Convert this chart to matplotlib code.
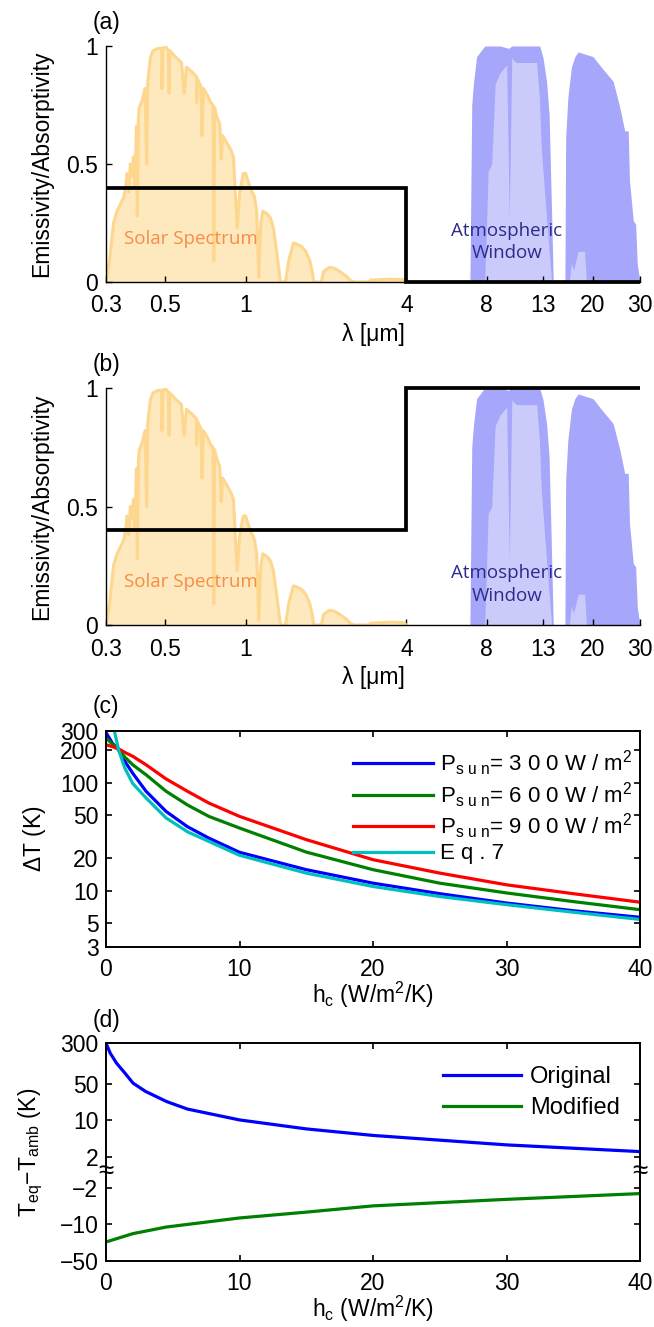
import numpy as np
import matplotlib
matplotlib.use("Agg")
import matplotlib.pyplot as plt
from matplotlib.ticker import NullLocator

plt.rcParams['font.family'] = ['Liberation Sans', 'DejaVu Sans']
plt.rcParams['mathtext.fontset'] = 'custom'
plt.rcParams['mathtext.rm'] = 'Liberation Sans'
plt.rcParams['mathtext.it'] = 'Liberation Sans:italic'
plt.rcParams['mathtext.bf'] = 'Liberation Sans:bold'

# === DATA ===
# AM1.5 solar spectrum, normalised, vs wavelength (um)
solar_wl = [0.300, 0.310, 0.320, 0.330, 0.340, 0.350, 0.355, 0.360, 0.365, 0.370,
            0.375, 0.380, 0.385, 0.390, 0.393, 0.397, 0.400, 0.410, 0.420, 0.426,
            0.430, 0.440, 0.450, 0.470, 0.485, 0.486, 0.490, 0.500, 0.514, 0.517,
            0.520, 0.550, 0.575, 0.589, 0.600, 0.630, 0.655, 0.656, 0.660, 0.680,
            0.687, 0.695, 0.720, 0.740, 0.755, 0.760, 0.765, 0.780, 0.800, 0.810,
            0.820, 0.850, 0.880, 0.900, 0.930, 0.950, 0.980, 1.000, 1.040, 1.080,
            1.100, 1.120, 1.140, 1.160, 1.200, 1.240, 1.270, 1.310, 1.350, 1.410,
            1.450, 1.510, 1.560, 1.620, 1.680, 1.740, 1.780, 1.800, 1.920, 1.960,
            2.060, 2.150, 2.250, 2.380, 2.480, 2.550, 2.880, 2.950, 3.500, 3.900,
            4.000]
solar = [0.00, 0.10, 0.25, 0.30, 0.33, 0.36, 0.40, 0.46, 0.38, 0.50,
         0.45, 0.53, 0.40, 0.66, 0.28, 0.70, 0.74, 0.77, 0.82, 0.50,
         0.85, 0.95, 0.98, 0.99, 0.99, 0.82, 0.99, 1.00, 0.98, 0.80,
         0.98, 0.95, 0.93, 0.80, 0.91, 0.89, 0.87, 0.76, 0.86, 0.83,
         0.62, 0.82, 0.79, 0.76, 0.75, 0.09, 0.74, 0.70, 0.67, 0.52,
         0.62, 0.59, 0.56, 0.53, 0.23, 0.38, 0.46, 0.46, 0.40, 0.36,
         0.30, 0.02, 0.25, 0.30, 0.29, 0.27, 0.23, 0.12, 0.00, 0.00,
         0.09, 0.165, 0.16, 0.15, 0.13, 0.09, 0.04, 0.00, 0.00, 0.045,
         0.062, 0.058, 0.045, 0.025, 0.005, 0.00, 0.00, 0.008, 0.012, 0.010,
         0.00]

# atmospheric transmittance: outer (dark) envelope
atm_wl = [6.80, 6.92, 7.03, 7.13, 7.33, 7.86, 9.00, 9.65, 9.93, 11.5,
          12.63, 13.0, 13.4, 13.7, 13.9, 14.2, 15.7, 15.8, 16.1, 16.6,
          17.1, 17.6, 20.0, 21.5, 23.8, 25.2, 26.3, 27.1, 27.4, 28.3,
          28.9, 29.3, 30.0]
atm_dark = [0.00, 0.00, 0.75, 0.84, 0.955, 1.00, 1.00, 0.99, 1.00, 1.00,
            1.00, 0.95, 0.85, 0.71, 0.43, 0.00, 0.00, 0.61, 0.78, 0.91,
            0.955, 0.975, 0.955, 0.91, 0.85, 0.74, 0.64, 0.64, 0.43, 0.26,
            0.245, 0.075, 0.00]
# atmospheric transmittance: inner (light) envelope
atm_light_wl = [7.86, 8.00, 8.10, 8.35, 8.60, 8.96, 9.50, 9.72, 9.93, 10.3,
                12.3, 12.6, 12.8, 13.4, 14.0, 16.3, 16.6, 16.9, 17.6, 18.6,
                18.9]
atm_light = [0.00, 0.27, 0.47, 0.50, 0.84, 0.885, 0.92, 0.27, 0.95, 0.93,
             0.93, 0.78, 0.57, 0.27, 0.00, 0.00, 0.08, 0.05, 0.13, 0.13,
             0.00]

# selective emitter emissivity
step_wl = [0.3, 4, 4, 30]
emiss_a = [0.4, 0.4, 0, 0]
emiss_b = [0.4, 0.4, 1, 1]

wl_ticks = [0.3, 0.5, 1, 4, 8, 13, 20, 30]
wl_labels = ['0.3', '0.5', '1', '4', '8', '13', '20', '30']

# (c) temperature difference vs convection coefficient
hc = [0, 0.47, 0.94, 1.41, 2, 3, 4.5, 6.1, 7.7, 10, 15, 20, 25, 30, 35, 40]
dT_300 = [290, 232, 201, 157, 122, 83, 54, 39, 30.6, 22.6, 15.6, 11.7, 9.35, 7.66, 6.5, 5.65]
dT_600 = [258, 228, 201, 172, 146, 118, 83, 62, 48.6, 37.9, 22.7, 15.6, 11.7, 9.5, 7.9, 6.65]
dT_900 = [224, 215, 205, 190, 175, 146, 108, 83, 64.6, 48.6, 29.6, 19.3, 14.5, 11.3, 9.35, 7.8]
hc_eq7 = [0.5, 0.63, 0.94, 1.41, 2, 3, 4.5, 6.1, 7.7, 10, 15, 20, 25, 30, 35, 40]
dT_eq7 = [360, 300, 201, 136, 98, 72, 47, 35, 28.5, 21.2, 14.5, 10.9, 8.8, 7.4, 6.3, 5.4]
c_ticks = [3, 5, 10, 20, 50, 100, 200, 300]

# (d) equilibrium temperature minus ambient
hd = [0, 0.31, 0.78, 1.41, 2.03, 2.97, 4.54, 6.1, 10, 15, 20, 30, 40]
T_orig = [300, 193, 124, 80, 51, 35.4, 22.7, 16.3, 10.1, 6.8, 5.1, 3.36, 2.5]
hd_mod = [0, 2, 4.5, 10, 15, 20, 30, 40]
T_mod = [-21.6, -15, -11.2, -7.5, -5.8, -4.4, -3.3, -2.56]
d_ticks = [-50, -10, -2, 2, 10, 50, 300]
d_labels = ['\u221250', '\u221210', '\u22122', '2', '10', '50', '300']

SOLAR_FILL = '#fee8be'
SOLAR_LINE = '#fdd78e'
ATM_DARK = '#a6a6fa'
ATM_LIGHT = '#cbcbfb'

W, H = 654, 1327
fig = plt.figure(figsize=(W / 100, H / 100), dpi=100)


def px_axes(left, top, right, bottom):
    return fig.add_axes([left / W, 1 - bottom / H, (right - left) / W, (bottom - top) / H])


TICK_FS = 16.5
LABEL_FS = 16.5


def spectrum_panel(ax, emiss, tag, tag_y):
    ax.fill_between(atm_wl, 0, atm_dark, color=ATM_DARK, lw=0)
    ax.fill_between(atm_light_wl, 0, atm_light, color=ATM_LIGHT, lw=0)
    ax.fill_between(solar_wl, 0, solar, color=SOLAR_FILL, lw=0)
    ax.plot(solar_wl, solar, color=SOLAR_LINE, lw=2.2)
    ax.plot(step_wl, emiss, color='k', lw=2.7, clip_on=False,
            solid_capstyle='butt', solid_joinstyle='miter', zorder=5)
    ax.set_xscale('log')
    ax.set_xlim(0.3, 30)
    ax.set_ylim(0, 1)
    ax.set_xticks(wl_ticks, wl_labels)
    ax.xaxis.set_minor_locator(NullLocator())
    ax.set_yticks([0, 0.5, 1], ['0', '0.5', '1'])
    for s in ['top', 'right']:
        ax.spines[s].set_visible(False)
    for s in ['left', 'bottom']:
        ax.spines[s].set_linewidth(1.0)
    ax.tick_params(direction='in', length=4.5, width=1.0, labelsize=TICK_FS)
    ax.tick_params(axis='x', pad=9)
    ax.tick_params(axis='y', pad=5.5)
    ax.text(0.35, 0.16, 'Solar Spectrum', color='#f88c45', fontsize=13.5,
            family='Open Sans')
    ax.text(9.5, 0.10, 'Atmospheric\nWindow', color='#2b2b8c', fontsize=13.5,
            family='Open Sans', ha='center', va='baseline', linespacing=1.35)
    ax.set_ylabel('Emissivity/Absorptivity', fontsize=LABEL_FS, va='center')
    ax.yaxis.set_label_coords(-0.12, 0.5)
    ax.set_xlabel('\u03bb [\u03bcm]', fontsize=LABEL_FS, va='baseline')
    ax.xaxis.set_label_coords(0.5, -0.25)
    fig.text(93 / W, 1 - tag_y / H, tag, fontsize=LABEL_FS, va='center', ha='left')


ax_a = px_axes(106, 46, 640, 282)
spectrum_panel(ax_a, emiss_a, '(a)', 22)
ax_b = px_axes(106, 388, 640, 625)
spectrum_panel(ax_b, emiss_b, '(b)', 365)


def box_style(ax):
    for s in ax.spines.values():
        s.set_linewidth(1.4)
    ax.tick_params(direction='in', length=4.5, width=1.2, labelsize=TICK_FS,
                   top=True, right=True)
    ax.tick_params(axis='x', pad=8)
    ax.tick_params(axis='y', pad=5.5)
    ax.set_xlim(0, 40)
    ax.set_xticks([0, 10, 20, 30, 40])


# (c)
ax_c = px_axes(106, 731, 640, 947)
lw = 2.3
ax_c.plot(hc, dT_300, color='#0000ff', lw=lw, label=r'P$_{\mathrm{s\ u\ n}}$= 3 0 0 W / m$^{2}$')
ax_c.plot(hc, dT_600, color='#008000', lw=lw, label=r'P$_{\mathrm{s\ u\ n}}$= 6 0 0 W / m$^{2}$')
ax_c.plot(hc, dT_900, color='#ff0000', lw=lw, label=r'P$_{\mathrm{s\ u\ n}}$= 9 0 0 W / m$^{2}$')
ax_c.plot(hc_eq7, dT_eq7, color='#00bfbf', lw=lw, label='E q . 7')
ax_c.set_yscale('log')
ax_c.set_ylim(3, 300)
ax_c.set_yticks(c_ticks, [str(t) for t in c_ticks])
ax_c.yaxis.set_minor_locator(NullLocator())
box_style(ax_c)
ax_c.legend(loc='upper left', bbox_to_anchor=(0.4625, 0.92), frameon=False,
            fontsize=16, handlelength=3.6, handletextpad=0.3, borderpad=0,
            borderaxespad=0, labelspacing=0.1)
ax_c.set_ylabel(r'$\Delta$T (K)', fontsize=LABEL_FS, va='center')
ax_c.yaxis.set_label_coords(-0.133, 0.5)
ax_c.set_xlabel(r'h$_{\mathrm{c}}$ (W/m$^{2}$/K)', fontsize=LABEL_FS, va='baseline')
ax_c.xaxis.set_label_coords(0.5, -0.259)
fig.text(93 / W, 1 - 707 / H, '(c)', fontsize=LABEL_FS, va='center', ha='left')

# (d) broken log axis: +2 .. 300 above the break, -2 .. -50 below
GAP = 0.3


def fwd(v):
    v = np.asarray(v, dtype=float)
    a = np.maximum(np.abs(v), 1e-12)
    return np.where(v == 0, 0.0, np.sign(v) * (np.log10(a / 2) + GAP))


def inv(y):
    y = np.asarray(y, dtype=float)
    return np.sign(y) * 2 * 10 ** (np.abs(y) - GAP)


ax_d = px_axes(106, 1043, 640, 1261)
ax_d.set_yscale('function', functions=(fwd, inv))
ax_d.plot(hd, T_orig, color='#0000ff', lw=lw, label='Original')
ax_d.plot(hd_mod, T_mod, color='#008000', lw=lw, label='Modified')
ax_d.set_ylim(-50, 300)
ax_d.set_yticks(d_ticks, d_labels)
ax_d.yaxis.set_minor_locator(NullLocator())
box_style(ax_d)
for xa in (0, 1):
    ax_d.text(xa, 0, '\u2248', transform=ax_d.get_yaxis_transform(), ha='center',
              va='center', fontsize=20, clip_on=False)
ax_d.legend(loc='upper left', bbox_to_anchor=(0.631, 0.895), frameon=False,
            fontsize=17, handlelength=3.3, handletextpad=0.4, borderpad=0,
            borderaxespad=0, labelspacing=0.4)
ax_d.set_ylabel('T$_{\\mathrm{eq}}$\u2212T$_{\\mathrm{amb}}$ (K)',
                fontsize=LABEL_FS, va='center')
ax_d.yaxis.set_label_coords(-0.141, 0.5)
ax_d.set_xlabel(r'h$_{\mathrm{c}}$ (W/m$^{2}$/K)', fontsize=LABEL_FS, va='baseline')
ax_d.xaxis.set_label_coords(0.5, -0.257)
fig.text(93 / W, 1 - 1021 / H, '(d)', fontsize=LABEL_FS, va='center', ha='left')

fig.savefig('out.png', dpi=100)
